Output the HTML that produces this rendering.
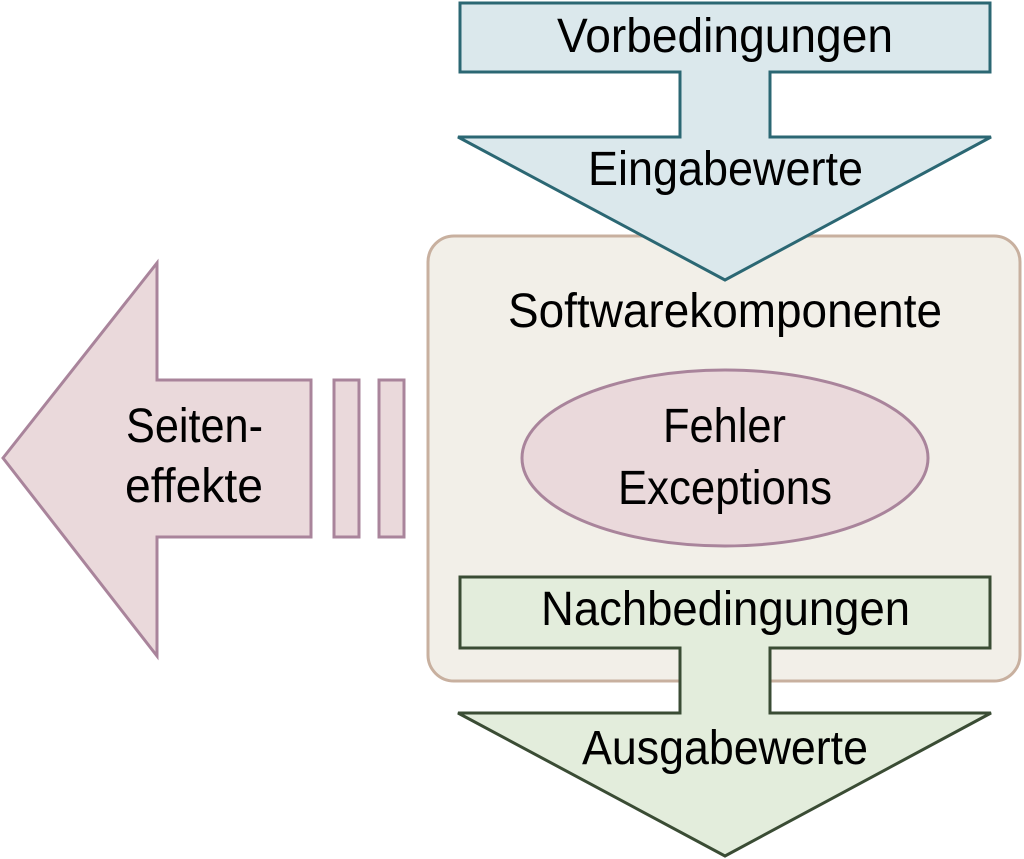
<!DOCTYPE html>
<html>
<head>
<meta charset="utf-8">
<style>
  html, body { margin: 0; padding: 0; background: #ffffff; }
  svg { display: block; }
  text { font-family: "Liberation Sans", "DejaVu Sans", sans-serif; fill: #000; }
</style>
</head>
<body>
<svg width="1024" height="859" viewBox="0 0 1024 859" xmlns="http://www.w3.org/2000/svg">
  <!-- Softwarekomponente box -->
  <rect x="428" y="236" width="592" height="445" rx="26" ry="26" fill="#f2efe8" stroke="#c8b09f" stroke-width="3"/>

  <!-- Top arrow (Vorbedingungen / Eingabewerte) -->
  <polygon points="460,3 990,3 990,72 770,72 770,137 991,137 725,280 458,137 680,137 680,72 460,72"
           fill="#dbe8ec" stroke="#2b6773" stroke-width="3" stroke-linejoin="miter"/>
  <text x="557" y="52" font-size="48" textLength="336" lengthAdjust="spacingAndGlyphs">Vorbedingungen</text>
  <text x="588" y="185" font-size="48" textLength="275" lengthAdjust="spacingAndGlyphs">Eingabewerte</text>

  <!-- Softwarekomponente label -->
  <text x="508" y="327" font-size="48" textLength="434" lengthAdjust="spacingAndGlyphs">Softwarekomponente</text>

  <!-- Ellipse -->
  <ellipse cx="725" cy="458" rx="203" ry="88" fill="#ead9db" stroke="#a9849b" stroke-width="3"/>
  <text x="663" y="442" font-size="48" textLength="123" lengthAdjust="spacingAndGlyphs">Fehler</text>
  <text x="618" y="504" font-size="48" textLength="214" lengthAdjust="spacingAndGlyphs">Exceptions</text>

  <!-- Bottom arrow (Nachbedingungen / Ausgabewerte) -->
  <polygon points="460,577 990,577 990,648 770,648 770,713 991,713 725,856 458,713 680,713 680,648 460,648"
           fill="#e3eddc" stroke="#3a4c34" stroke-width="3" stroke-linejoin="miter"/>
  <text x="541" y="625" font-size="48" textLength="369" lengthAdjust="spacingAndGlyphs">Nachbedingungen</text>
  <text x="582" y="764" font-size="48" textLength="286" lengthAdjust="spacingAndGlyphs">Ausgabewerte</text>

  <!-- Left arrow (Seiteneffekte) -->
  <polygon points="3,458 157,263 157,380 311,380 311,537 157,537 157,656"
           fill="#ead9db" stroke="#a9849b" stroke-width="3" stroke-linejoin="miter"/>
  <rect x="334" y="380" width="25" height="157" fill="#ead9db" stroke="#a9849b" stroke-width="3"/>
  <rect x="379" y="380" width="25" height="157" fill="#ead9db" stroke="#a9849b" stroke-width="3"/>
  <text x="126" y="442" font-size="48" textLength="137" lengthAdjust="spacingAndGlyphs">Seiten-</text>
  <text x="125" y="502" font-size="48" textLength="138" lengthAdjust="spacingAndGlyphs">effekte</text>
</svg>
</body>
</html>
